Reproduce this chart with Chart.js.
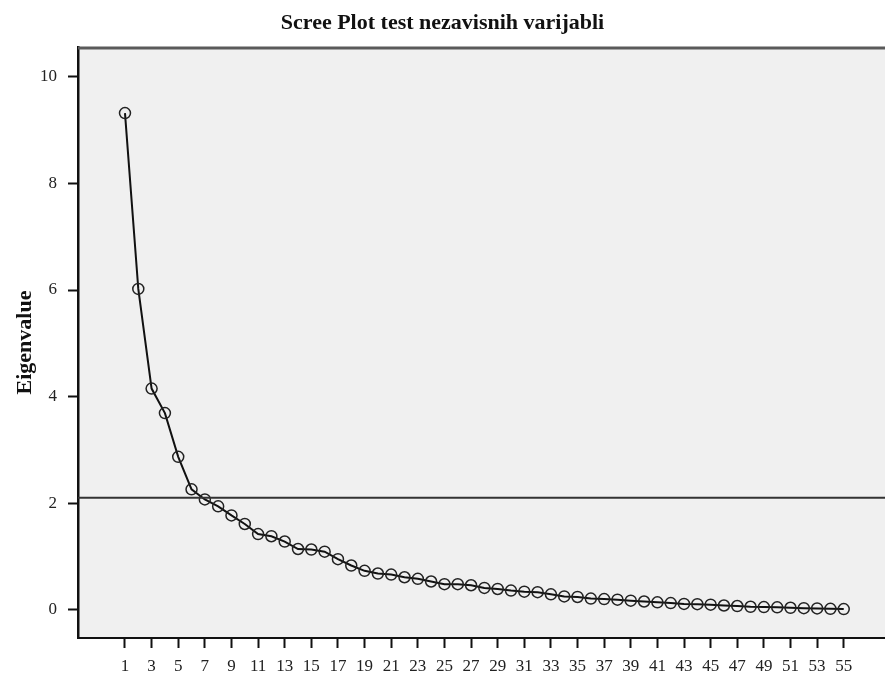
<!DOCTYPE html>
<html>
<head>
<meta charset="utf-8">
<script src="https://cdn.jsdelivr.net/npm/chart.js@4"></script>
<style>
  html, body { margin: 0; padding: 0; background: #fff; overflow: hidden; }
  canvas { display: block; }
</style>
</head>
<body>
<canvas id="scree" width="885" height="674"></canvas>
<script>
// -- THE DATA --

const components = [
  1,2,3,4,5,6,7,8,9,10,11,12,13,14,15,16,17,18,19,20,
  21,22,23,24,25,26,27,28,29,30,31,32,33,34,35,36,37,38,39,40,
  41,42,43,44,45,46,47,48,49,50,51,52,53,54,55
];

const eigenvalues = [
  9.32,6.02,4.15,3.69,2.87,2.26,2.07,1.94,1.77,1.61,
  1.42,1.38,1.28,1.14,1.13,1.09,0.95,0.83,0.73,0.68,
  0.66,0.61,0.58,0.53,0.48,0.48,0.46,0.41,0.39,0.36,
  0.34,0.33,0.29,0.25,0.24,0.21,0.20,0.19,0.17,0.155,
  0.14,0.125,0.11,0.105,0.095,0.08,0.07,0.056,0.05,0.045,
  0.037,0.03,0.025,0.018,0.012
];

const xTickValues = [
  1,3,5,7,9,11,13,15,17,19,21,23,25,27,29,31,33,35,37,39,41,43,45,47,49,51,53,55
];

const yTickValues = [0,2,4,6,8,10];

const referenceLine = 2.1;

// -- PLUGINS --

const plotBackground = {
  id: 'plotBackground',
  beforeDraw(chart) {
    const { ctx, chartArea: a } = chart;
    ctx.save();
    ctx.fillStyle = '#f0f0f0';
    ctx.fillRect(a.left, a.top, a.right - a.left, a.bottom - a.top);
    ctx.restore();
  },
  afterDatasetsDraw(chart) {
    const { ctx, chartArea: a, scales } = chart;
    ctx.save();
    // top frame line
    ctx.strokeStyle = '#5a5a5a';
    ctx.lineWidth = 3;
    ctx.beginPath();
    ctx.moveTo(a.left, a.top + 1);
    ctx.lineTo(a.right, a.top + 1);
    ctx.stroke();
    // reference line
    const yPix = scales.y.getPixelForValue(referenceLine);
    ctx.strokeStyle = '#333';
    ctx.lineWidth = 2;
    ctx.beginPath();
    ctx.moveTo(a.left, yPix);
    ctx.lineTo(a.right, yPix);
    ctx.stroke();
    ctx.restore();
  }
};

// -- THE CHART --

const serif = "'Liberation Serif', 'DejaVu Serif', serif";

new Chart('scree', {
  type: 'line',
  data: {
    datasets: [{
      data: components.map((c, i) => ({ x: c, y: eigenvalues[i] })),
      borderColor: '#111',
      borderWidth: 2,
      backgroundColor: 'transparent',
      pointRadius: 5.5,
      pointBorderColor: '#222',
      pointBorderWidth: 1.5,
      pointBackgroundColor: 'transparent',
      tension: 0
    }]
  },
  options: {
    responsive: false,
    animation: false,
    layout: { autoPadding: false, padding: 0 },
    plugins: {
      legend: { display: false },
      tooltip: { enabled: false },
      title: {
        display: true,
        text: 'Scree Plot test nezavisnih varijabli',
        color: '#111',
        font: { family: serif, size: 22, weight: 'bold' },
        padding: { top: 10, bottom: 10.6 }
      }
    },
    scales: {
      x: {
        type: 'linear',
        min: -2.53,
        max: 58.1,
        afterBuildTicks(scale) {
          scale.ticks = xTickValues.map(v => ({ value: v }));
        },
        afterFit(scale) {
          scale.height = 36;
          scale.paddingLeft = 0;
          scale.paddingRight = 0;
        },
        ticks: {
          color: '#222',
          font: { family: serif, size: 17 },
          padding: 8,
          maxRotation: 0,
          autoSkip: false
        },
        grid: {
          drawOnChartArea: false,
          drawTicks: true,
          tickLength: 10,
          tickWidth: 2,
          tickColor: '#111'
        },
        border: { display: true, color: '#111', width: 2 }
      },
      y: {
        type: 'linear',
        min: -0.53,
        max: 10.56,
        afterBuildTicks(scale) {
          scale.ticks = yTickValues.map(v => ({ value: v }));
        },
        afterFit(scale) { scale.width = 78; },
        ticks: {
          color: '#222',
          font: { family: serif, size: 17 },
          padding: 11
        },
        grid: {
          drawOnChartArea: false,
          drawTicks: true,
          tickLength: 10,
          tickWidth: 2,
          tickColor: '#111'
        },
        border: { display: true, color: '#111', width: 2.5 },
        title: {
          display: true,
          text: 'Eigenvalue',
          color: '#111',
          font: { family: serif, size: 22, weight: 'bold' },
          padding: { top: 12, bottom: 0 }
        }
      }
    }
  },
  plugins: [plotBackground]
});
</script>
</body>
</html>
